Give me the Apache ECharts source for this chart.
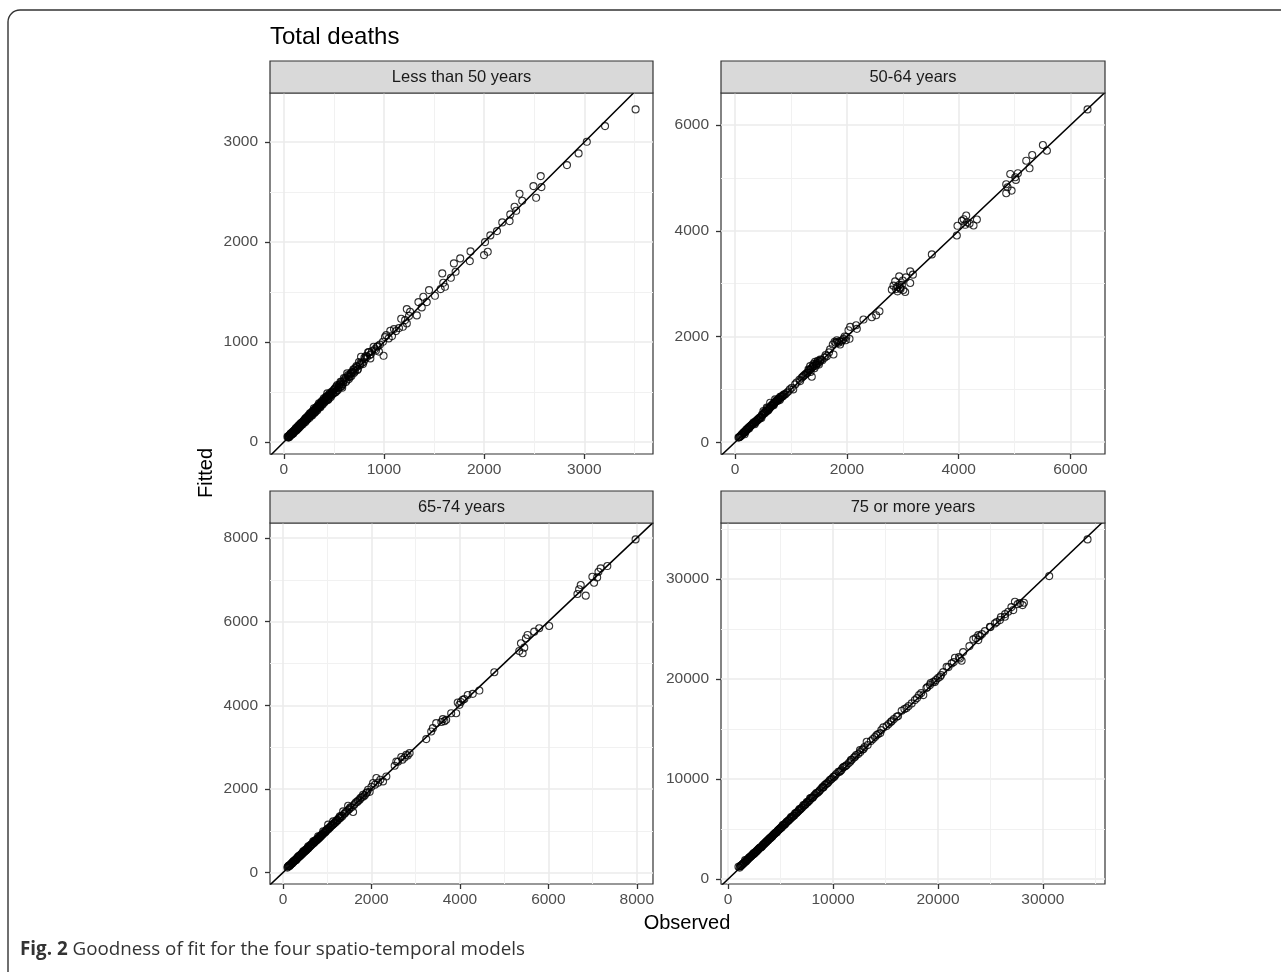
<!DOCTYPE html>
<html><head><meta charset="utf-8">
<script src="https://cdn.jsdelivr.net/npm/echarts@6/dist/echarts.min.js"></script>
<style>html,body{margin:0;padding:0;background:#fff}#chart{width:1281px;height:972px}</style>
</head><body><div id="chart"></div>
<script>
// ---------- DATA (observed, fitted) ----------
const panelTitles = ['Less than 50 years', '50-64 years', '65-74 years', '75 or more years'];

const under50 = [
[3512,3327],[3207,3160],[3025,3003],[2943,2887],[2827,2770],[2565,2660],[2492,2560],[2572,2550],[2519,2443],[2353,2483],
[2380,2413],[2304,2353],[2320,2313],[2261,2277],[2254,2210],[2181,2197],[2128,2110],[2062,2067],[2009,2000],[2036,1903],
[1999,1870],[1864,1907],[1857,1810],[1761,1837],[1698,1787],[1715,1703],[1668,1643],[1582,1687],[1592,1593],[1609,1553],
[1566,1530],[1509,1463],[1450,1520],[1393,1453],[1344,1400],[1427,1400],[1377,1347],[1228,1330],[1261,1303],[1328,1267],
[1172,1233],[1211,1220],[1189,1153],[1228,1187],[1250,1262],[1063,1113],[1023,1070],[1047,1037],[990,1003],[930,953],
[897,953],[960,975],[996,863],[771,853],[841,897],[864,837],[798,803],[820,860],[732,753],[760,770],
[698,720],[680,700],[632,687],[660,650],[649,653],[600,640],[566,603],[590,580],[533,570],[583,543],
[545,540],[500,520],[520,500],[480,505],[434,487],[460,470],[420,450],[400,437],[440,420],[380,410],
[351,387],[361,360],[330,350],[301,337],[320,310],[290,300],[261,287],[275,270],[240,260],[218,237],
[230,220],[200,215],[185,200],[169,187],[175,170],[150,160],[140,150],[119,137],[125,120],[100,110],
[90,100],[70,87],[80,75],[60,70],[50,60],[36,53],[45,45],[55,50],[65,78],[85,92],
[95,85],[105,118],[112,105],[130,145],[135,128],[145,138],[155,172],[160,150],[178,190],[190,178],
[195,205],[210,225],[215,200],[225,245],[235,228],[245,250],[250,270],[255,240],[265,275],[280,295],
[285,268],[295,315],[305,290],[310,328],[325,335],[335,318],[340,365],[345,340],[355,370],[365,348],
[370,395],[385,380],[390,400],[405,395],[410,430],[425,415],[430,460],[445,440],[450,475],[470,450],
[475,490],[490,480],[505,530],[510,495],[525,555],[540,520],[555,575],[560,550],[575,600],[580,565],
[610,625],[620,600],[640,670],[650,630],[670,690],[690,700],[700,690],[715,740],[740,730],[750,800],
[780,790],[810,830],[830,850],[850,900],[870,880],[910,930],[940,960],[950,905],[1080,1060],[1100,1130],[1150,1140],
[42,58],[48,50],[58,62],[62,72],[68,66],[72,80],[78,88],[88,84],[92,105],[98,98],
[108,112],[115,125],[122,130],[128,118],[138,142],[142,160],[148,140],[158,165],[165,180],[172,165],
[182,195],[188,185],[198,210],[205,198],[212,230],[220,215],[228,240],[238,235],[248,262],[258,255],
[268,290],[272,260],[282,280],[288,310],[298,292],[308,318],[315,300],[322,345],[332,328],[342,352],
[352,345],[358,380],[368,362],[378,395],[388,375],[395,420],[408,405],[418,440],[428,425],[438,455],
[448,430],[458,488],[465,462],[478,470],[488,505],[498,490],[515,540],[530,515],[548,560],[565,580],
[572,552],[595,610],[615,640],[628,615],[645,660],[665,680],[675,662],[695,728],[710,705],[725,760],
[735,720],[765,790],[790,780],[805,845],[860,870],[880,910],[920,915],[1010,1050],[1120,1110]
];

const age50to64 = [
[6306,6297],[5507,5623],[5579,5516],[5316,5435],[5209,5327],[5268,5183],[4923,5076],[5012,5014],[5060,5090],[5024,4963],
[4851,4882],[4875,4825],[4947,4761],[4851,4712],[4135,4289],[4058,4189],[4326,4214],[4117,4114],[4266,4102],[3979,4095],
[4195,4139],[4150,4160],[4090,4220],[3967,3912],[3520,3554],[3133,3233],[3181,3171],[3055,3120],[2936,3139],[2864,3044],
[2984,2981],[2834,2963],[3133,3013],[2804,2887],[2906,2855],[3043,2843],[2954,2925],[2900,2940],[2960,2900],[3000,3060],
[2880,2900],[2940,2980],[3010,2880],[2583,2478],[2524,2403],[2446,2365],[2297,2321],[2166,2214],[2059,2183],[2029,2120],
[2178,2145],[2047,1957],[1939,1957],[1820,1930],[1748,1849],[1879,1849],[1900,1900],[1980,1930],[1960,2000],[1850,1880],
[1780,1900],[1760,1661],[1641,1629],[1522,1566],[1462,1504],[1343,1440],[1313,1378],[1372,1240],[1223,1252],[1400,1480],
[1450,1450],[1480,1540],[1500,1470],[1540,1560],[1420,1400],[1380,1420],[1300,1320],[1270,1300],[1350,1330],[1430,1520],
[1164,1157],[1074,1094],[1014,1031],[1100,1130],[1040,1000],[925,937],[806,862],[716,811],[627,748],[567,654],
[507,591],[448,465],[328,371],[239,277],[149,182],[60,88],[80,100],[100,120],[120,150],[130,140],
[170,200],[190,210],[200,240],[220,250],[260,290],[280,310],[300,330],[340,360],[360,390],[380,400],
[400,430],[420,440],[460,480],[480,520],[520,560],[540,580],[560,600],[580,640],[600,620],[620,650],
[640,690],[660,700],[680,730],[700,740],[720,760],[740,790],[760,780],[780,820],[800,800],[820,850],
[840,860],[860,880],[880,900],[900,910],[950,960],[980,1000],[170,150],[250,260],[350,340],[470,460],
[590,600],[690,700],
[70,95],[90,110],[110,130],[140,165],[160,180],[180,190],[210,230],[230,260],[270,300],[290,320],
[310,340],[320,350],[370,380],[390,410],[410,420],[430,460],[440,450],[490,510],[500,530],[530,550],
[550,570],[570,590],[610,640],[630,660],[650,680],[670,710],[690,720],[710,750],[730,770],[750,800],
[770,800],[790,830],[810,830],[830,870],[850,870],[870,900],[1150,1180],[1190,1220],[1210,1240],[1240,1270],
[1260,1280],[1290,1310],[1320,1360],[1340,1370],[1360,1390],[1390,1430],[1410,1440],[1440,1480],[1460,1470],[1490,1500],
[1520,1530],[1560,1550],[1600,1600],[1620,1650],[1680,1700],[1700,1760],[1800,1880],[1830,1900],[1870,1910],[1920,1930],[1990,1990]
];

const age65to74 = [
[7972,7965],[7333,7328],[7183,7273],[7133,7192],[6995,7073],[7103,7057],[7033,6930],[6732,6875],[6695,6772],[6657,6660],
[6845,6620],[6018,5896],[5793,5841],[5680,5760],[5530,5681],[5493,5602],[5380,5483],[5455,5378],[5342,5299],[5418,5243],
[4778,4790],[4440,4352],[4290,4273],[4177,4246],[4064,4130],[3989,4010],[3951,4066],[4020,4080],[4100,4150],[3915,3811],
[3803,3811],[3690,3652],[3615,3668],[3650,3620],[3580,3600],[3464,3573],[3389,3453],[3351,3374],[3239,3191],[2863,2857],
[2788,2818],[2675,2762],[2750,2750],[2820,2800],[2700,2700],[2600,2650],[2563,2657],[2525,2554],[2337,2299],[2262,2180],
[2112,2260],[2037,2141],[2000,2050],[2080,2100],[2150,2150],[2200,2220],[1923,1981],[1960,1930],[1810,1862],[1735,1743],
[1585,1449],[1472,1599],[1360,1464],[1285,1344],[1134,1225],[1021,1146],[909,986],[796,867],[684,748],[571,628],
[458,509],[346,390],[233,270],[120,151],[100,120],[150,160],[180,200],[200,220],[260,280],[280,310],
[300,300],[320,350],[370,400],[400,410],[420,450],[440,460],[480,500],[500,540],[520,530],[550,580],
[600,620],[620,660],[650,670],[700,720],[720,760],[750,760],[780,800],[820,830],[850,880],[880,900],
[920,940],[950,960],[980,1010],[1000,1040],[1050,1080],[1080,1100],[1100,1130],[1150,1170],[1180,1190],[1200,1240],
[1240,1250],[1260,1300],[1300,1310],[1320,1360],[1400,1420],[1420,1450],[1500,1520],[1550,1560],[1620,1640],[1650,1680],
[1700,1720],[1780,1800],[1850,1850],[1900,1920],
[110,140],[130,160],[140,170],[160,180],[170,190],[190,210],[210,240],[220,230],[240,260],[250,270],
[270,290],[290,300],[310,330],[330,360],[340,350],[360,380],[380,390],[390,420],[410,430],[430,440],
[450,470],[460,490],[470,480],[490,510],[510,520],[530,560],[540,550],[560,570],[570,600],[580,590],
[610,630],[630,640],[640,670],[660,690],[680,690],[690,730],[710,720],[730,750],[740,770],[760,790],
[770,780],[790,820],[800,810],[830,860],[840,850],[860,870],[870,900],[890,920],[900,910],[930,960],
[960,990],[970,980],[990,1020],[1020,1030],[1030,1060],[1060,1070],[1090,1120],[1120,1140],[1130,1150],[1160,1190],
[1210,1220],[1230,1260],[1280,1300],[1340,1350],[1380,1400],[1450,1470],[1480,1500],[1520,1560],[1600,1610],[1680,1690],
[1750,1780],[1820,1820],[1880,1900]
];

const age75plus = [
[34257,33967],[30603,30300],[28066,27400],[28193,27633],[27334,27733],[27175,26900],[26699,26733],[26381,26233],[25905,25900],[25429,25567],
[24953,25233],[24477,24800],[23842,24400],[23366,23967],[23842,23900],[23600,24100],[22096,22067],[21620,22133],[22254,21833],[21302,21567],
[20826,21233],[20500,20700],[20191,20233],[19556,19733],[19800,19900],[19238,19400],[18900,19100],[18603,18400],[18200,18400],[17492,17567],
[17800,17900],[16540,16833],[17000,17100],[16064,16233],[15600,15800],[14794,15167],[15100,15300],[14158,14400],[14500,14600],[13206,13733],
[13600,13800],[12571,12900],[12900,13000],[12095,12233],[11700,11900],[11302,11400],[10900,11100],[10508,10733],[10032,10233],[9700,9900],
[9397,9567],[9000,9200],[8762,8900],[8400,8600],[8100,8200],[7810,8067],[7500,7700],[7175,7400],[6800,7000],[6381,6567],
[6000,6200],[5587,5733],[5200,5400],[4794,4900],[4400,4500],[4000,4067],[3600,3700],[3206,3233],[2800,2900],[2413,2567],
[2000,2150],[1619,1900],[1300,1400],[984,1233],[1100,1150],[1200,1300],[1400,1500],[1500,1600],[1700,1750],[1800,1900],
[1900,2000],[2100,2200],[2200,2300],[2300,2400],[2500,2550],[2600,2700],[2700,2750],[2900,3000],[3000,3100],[3100,3150],
[3300,3400],[3400,3450],[3500,3550],[3700,3800],[3800,3850],[3900,4000],[4100,4200],[4200,4250],[4300,4400],[4500,4600],
[4600,4650],[4700,4800],[4900,5000],[5000,5100],[5100,5150],[5300,5400],[5400,5450],[5500,5600],[5700,5800],[5800,5900],
[5900,6000],[6100,6200],[6200,6300],[6300,6350],[6500,6600],[6600,6700],[6700,6800],[6900,7000],[7000,7100],[7300,7400],
[7400,7500],[7600,7700],[7700,7800],[7900,8100],[8000,8100],[8200,8350],[8500,8600],[8600,8700],[8900,9050],[9100,9200],
[9200,9400],[9500,9600],[9600,9750],[9900,10050],[10100,10200],[10300,10500],[10600,10700],[10800,10900],[11000,11200],[11200,11300],
[11500,11600],[11800,11950],[12200,12400],[12400,12500],[12800,12950],[13000,13200],[13300,13400],[13800,14000],[14000,14200],[14300,14500],
[14600,14900],[15300,15500],[15500,15700],[15800,16000],[16200,16300],[16800,17000],[17200,17300],[18000,18100],[18400,18600],[19000,19200],
[19300,19600],[19700,19700],[20000,20100],[20300,20400],[21000,21200],[21500,21700],[22000,22200],[22400,22700],[23000,23300],[24000,24300],
[24200,24500],[25000,25200],[25600,25700],[26000,26200],[26400,26500],[27000,27200],[27600,27500],[27800,27600],
[1150,1300],[1250,1350],[1350,1450],[1450,1550],[1550,1650],[1650,1750],[1750,1850],[1850,1950],[1950,2050],[2050,2150],
[2150,2250],[2250,2350],[2350,2450],[2450,2500],[2550,2650],[2650,2700],[2750,2850],[2850,2900],[2950,3050],[3050,3150],
[3150,3200],[3250,3300],[3350,3450],[3450,3550],[3550,3650],[3650,3700],[3750,3850],[3850,3950],[3950,4050],[4050,4150],
[4150,4200],[4250,4350],[4350,4450],[4450,4550],[4550,4650],[4650,4700],[4750,4850],[4850,4950],[4950,5050],[5050,5150],
[5150,5250],[5250,5350],[5350,5450],[5450,5550],[5600,5700],[5750,5850],[5950,6050],[6050,6150],[6250,6350],[6450,6550],
[6550,6650],[6750,6850],[6850,6950],[7050,7150],[7200,7300],[7350,7450],[7550,7650],[7800,7900],[8050,8150],[8300,8450],
[8700,8800],[9050,9150],[9300,9450],[9800,9950],[10200,10350],[10700,10800],[11100,11250],[11650,11750],[12000,12150],[12600,12700]
];

const ticksUnder50 = [0, 1000, 2000, 3000];
const ticks50to64 = [0, 2000, 4000, 6000];
const ticks65to74 = [0, 2000, 4000, 6000, 8000];
const ticks75plus = [0, 10000, 20000, 30000];

const figTitle = 'Total deaths';
const xName = 'Observed';
const yName = 'Fitted';
const caption = 'Goodness of fit for the four spatio-temporal models';

// ---------- LAYOUT ----------
const FONT = 'Liberation Sans';
const STRIP_H = 32;
const layout = [
  {left: 270, top: 93, width: 383, height: 361},
  {left: 721, top: 93, width: 384, height: 361},
  {left: 270, top: 523, width: 383, height: 361},
  {left: 721, top: 523, width: 384, height: 361}
];
const panels = [
  {data: under50, ticks: ticksUnder50, split: 4},
  {data: age50to64, ticks: ticks50to64, split: 3},
  {data: age65to74, ticks: ticks65to74, split: 4},
  {data: age75plus, ticks: ticks75plus, split: 4}
];

function expandRange(vals) {
  const lo = Math.min(...vals), hi = Math.max(...vals);
  const pad = (hi - lo) * 0.05;
  return [lo - pad, hi + pad];
}

const grids = [], xAxes = [], yAxes = [], series = [], graphics = [];

function axisDef(i, range, ticks, split, isX) {
  return {
    gridIndex: i, type: 'value', min: range[0], max: range[1], splitNumber: split,
    axisLine: {show: false, onZero: false},
    axisTick: {show: true, length: 5, lineStyle: {color: '#333', width: 1.3}, customValues: ticks},
    axisLabel: {customValues: ticks, color: '#4d4d4d', fontSize: 15.5, fontFamily: FONT, margin: isX ? 8 : 12,
      formatter: v => String(v)},
    splitLine: {show: true, lineStyle: {color: '#ebebeb', width: 1.6}},
    minorTick: {show: false, splitNumber: 2},
    minorSplitLine: {show: true, lineStyle: {color: '#f1f1f1', width: 1}}
  };
}

panels.forEach((p, i) => {
  const L = layout[i];
  grids.push({left: L.left, top: L.top, width: L.width, height: L.height, show: true,
    borderColor: '#333', borderWidth: 1.2, backgroundColor: '#fff', containLabel: false});
  const xr = expandRange(p.data.map(d => d[0]));
  const yr = expandRange(p.data.map(d => d[1]));
  xAxes.push(axisDef(i, xr, p.ticks, p.split, true));
  yAxes.push(axisDef(i, yr, p.ticks, p.split, false));
  series.push({
    type: 'scatter', xAxisIndex: i, yAxisIndex: i, data: p.data, symbol: 'circle', symbolSize: 7,
    itemStyle: {color: 'rgba(0,0,0,0)', borderColor: '#000', borderWidth: 1.1}, silent: true, z: 2
  });
  const lo = Math.min(xr[0], yr[0]), hi = Math.max(xr[1], yr[1]);
  series.push({
    type: 'line', xAxisIndex: i, yAxisIndex: i, data: [[lo, lo], [hi, hi]], showSymbol: false, clip: true,
    lineStyle: {color: '#000', width: 1.5}, silent: true, z: 3
  });
  graphics.push({type: 'rect', shape: {x: L.left, y: L.top - STRIP_H, width: L.width, height: STRIP_H},
    style: {fill: '#d9d9d9', stroke: '#333', lineWidth: 1.2}, z: 10});
  graphics.push({type: 'text', x: L.left + L.width / 2, y: L.top - STRIP_H / 2,
    style: {text: panelTitles[i], fill: '#1a1a1a', font: '16.5px "Liberation Sans"', align: 'center', verticalAlign: 'middle'}, z: 11});
});

graphics.push({type: 'rect', shape: {x: 8, y: 10, width: 1400, height: 1100, r: 12},
  style: {fill: 'none', stroke: '#333', lineWidth: 1.4}, z: 1});
graphics.push({type: 'text', x: 270, y: 37,
  style: {text: figTitle, fill: '#000', font: '24px "Liberation Sans"', align: 'left', verticalAlign: 'middle'}, z: 11});
graphics.push({type: 'text', x: 687, y: 923,
  style: {text: xName, fill: '#000', font: '20px "Liberation Sans"', align: 'center', verticalAlign: 'middle'}, z: 11});
graphics.push({type: 'text', x: 206, y: 473, rotation: Math.PI / 2,
  style: {text: yName, fill: '#000', font: '20px "Liberation Sans"', align: 'center', verticalAlign: 'middle'}, z: 11});
graphics.push({type: 'text', x: 20, y: 950,
  style: {text: '{b|Fig. 2} ' + caption, fill: '#333', font: '18.8px "Open Sans"', align: 'left', verticalAlign: 'middle',
    rich: {b: {fontWeight: 'bold', fontFamily: 'Open Sans', fontSize: 18.8, fill: '#333'}}}, z: 11});

const chart = echarts.init(document.getElementById('chart'));
chart.setOption({
  animation: false,
  backgroundColor: '#fff',
  textStyle: {fontFamily: FONT},
  grid: grids, xAxis: xAxes, yAxis: yAxes, series: series, graphic: graphics
});
</script></body></html>
